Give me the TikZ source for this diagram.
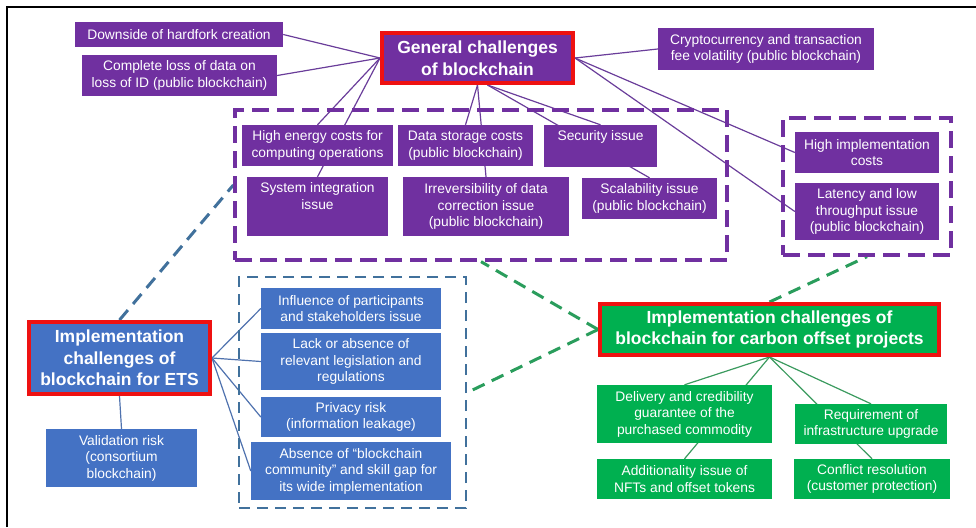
\documentclass[tikz,border=0pt]{standalone}
\usepackage{fontspec}
\setmainfont{Liberation Sans}
\usetikzlibrary{backgrounds,calc}
\definecolor{pur}{HTML}{7030A0}
\definecolor{blu}{HTML}{4472C4}
\definecolor{grn}{HTML}{00B050}
\definecolor{redb}{HTML}{EE1111}
\definecolor{bdashc}{HTML}{41719C}
\definecolor{gdashc}{HTML}{2A9D5C}
\definecolor{glinec}{HTML}{3A9A5E}
\definecolor{blinec}{HTML}{4F72AE}
\definecolor{plinec}{HTML}{6A3D9A}
\begin{document}
\begin{tikzpicture}[x=1pt,y=-1pt,
  sz/.style 2 args={minimum width=#1pt, minimum height=#2pt},
  box/.style={text=white, align=center, inner sep=0pt, font=\fontsize{13.8}{16.5}\selectfont},
  pbox/.style={box, fill=pur},
  bbox/.style={box, fill=blu},
  gbox/.style={box, fill=grn},
  titlebox/.style={draw=redb, line width=4pt, font=\fontsize{17.5}{21.5}\selectfont\bfseries},
  pdash/.style={draw=pur, line width=3.3pt, dash pattern=on 17pt off 8pt, inner sep=0pt},
  bdash/.style={draw=bdashc, line width=2.7pt, dash pattern=on 11pt off 7pt, inner sep=0pt},
  pline/.style={draw=plinec, line width=1.2pt},
  bline/.style={draw=blinec, line width=1.2pt},
  gline/.style={draw=glinec, line width=1.2pt},
  gdash/.style={draw=gdashc, line width=3pt, dash pattern=on 13pt off 8pt},
  bdashline/.style={draw=bdashc, line width=3pt, dash pattern=on 13pt off 8pt},
]
\useasboundingbox (0,0) rectangle (976,527);
\draw[line width=2pt, black] (7,527) -- (7,7) -- (976,7);

% dashed group boxes
\node[pdash, sz={492}{150}] (pd1) at (481,185) {};
\node[pdash, sz={168}{137}] (pd2) at (867,186.5) {};
\node[bdash, sz={227}{231}] (bd) at (352.5,392.5) {};

% general challenges
\node[pbox, titlebox, sz={191}{50}] (gen) at (477.5,58) {General challenges\\of blockchain};
\node[pbox, sz={208}{25}] (hard) at (179,34.5) {Downside of hardfork creation};
\node[pbox, sz={195}{41}] (loss) at (179.5,75.5) {Complete loss of data on\\loss of ID (public blockchain)};
\node[pbox, sz={216}{42}] (crypto) at (766,49) {Cryptocurrency and transaction\\fee volatility (public blockchain)};
\node[pbox, sz={151}{41}] (energy) at (317.5,145.5) {High energy costs for\\computing operations};
\node[pbox, sz={135}{41}] (storage) at (465.5,145.5) {Data storage costs\\(public blockchain)};
\node[pbox, sz={113}{42}] (sec) at (600.5,146) {Security issue\\ \strut};
\node[pbox, sz={141}{59}] (sysint) at (317.5,206.5) {System integration\\issue\\ \strut};
\node[pbox, sz={166}{59}] (irrev) at (486,206.5) {Irreversibility of data\\correction issue\\(public blockchain)};
\node[pbox, sz={135}{41}] (scal) at (649.5,198.5) {Scalability issue\\(public blockchain)};
\node[pbox, sz={144}{41}] (himpl) at (867,152.5) {High implementation\\costs};
\node[pbox, sz={144}{57}] (lat) at (867,211.5) {Latency and low\\throughput issue\\(public blockchain)};

% ETS
\node[bbox, titlebox, sz={181}{72}] (ets) at (119.5,358) {Implementation\\challenges of\\blockchain for ETS};
\node[bbox, sz={151}{58}] (valid) at (121.5,458) {Validation risk\\(consortium\\blockchain)};
\node[bbox, sz={180}{41}] (infl) at (351,308.5) {Influence of participants\\and stakeholders issue};
\node[bbox, sz={180}{57}] (lack) at (351,361.5) {Lack or absence of\\relevant legislation and\\regulations};
\node[bbox, sz={180}{40}] (priv) at (351,417) {Privacy risk\\(information leakage)};
\node[bbox, sz={200}{58}] (absence) at (351,471) {Absence of “blockchain\\community” and skill gap for\\its wide implementation};

% carbon offset
\node[gbox, titlebox, sz={339}{51}] (carbon) at (769.5,329.5) {Implementation challenges of\\blockchain for carbon offset projects};
\node[gbox, sz={175}{58}] (deliv) at (684.5,414) {Delivery and credibility\\guarantee of the\\purchased commodity};
\node[gbox, sz={175}{40}] (addit) at (684.5,479) {Additionality issue of\\NFTs and offset tokens};
\node[gbox, sz={152}{40}] (req) at (871,424) {Requirement of\\infrastructure upgrade};
\node[gbox, sz={156}{40}] (confl) at (872,479) {Conflict resolution\\(customer protection)};

\begin{scope}[on background layer]
  % general connectors
  \draw[pline] (gen.west) -- (hard.east);
  \draw[pline] (gen.west) -- (loss.east);
  \draw[pline] (gen.west) -- (energy.north);
  \draw[pline] (gen.west) -- (sysint.north);
  \draw[pline] (gen.south) -- (storage.north);
  \draw[pline] (gen.south) -- (irrev.north);
  \draw[pline] ([xshift=10pt]gen.south) -- (sec.north);
  \draw[pline] ([xshift=10pt]gen.south) -- (scal.north);
  \draw[pline] (gen.east) -- (crypto.west);
  \draw[pline] (gen.east) -- (himpl.west);
  \draw[pline] (gen.east) -- (lat.west);
  % ETS connectors
  \draw[bline] (ets.east) -- (infl.west);
  \draw[bline] (ets.east) -- (lack.west);
  \draw[bline] (ets.east) -- (priv.west);
  \draw[bline] (ets.east) -- (absence.west);
  \draw[bline] (ets.south) -- (valid.north);
  % carbon connectors
  \draw[gline] (carbon.south) -- (deliv.north);
  \draw[gline] (carbon.south) -- (addit.north);
  \draw[gline] (carbon.south) -- (req.north);
  \draw[gline] (carbon.south) -- (confl.north);
  % dashed links
  \draw[bdashline] (ets.north) -- (pd1.west);
  \draw[gdash] (carbon.west) -- (pd1.south);
  \draw[gdash] (carbon.west) -- (bd.east);
  \draw[gdash] (carbon.north) -- (pd2.south);
\end{scope}
\end{tikzpicture}
\end{document}
